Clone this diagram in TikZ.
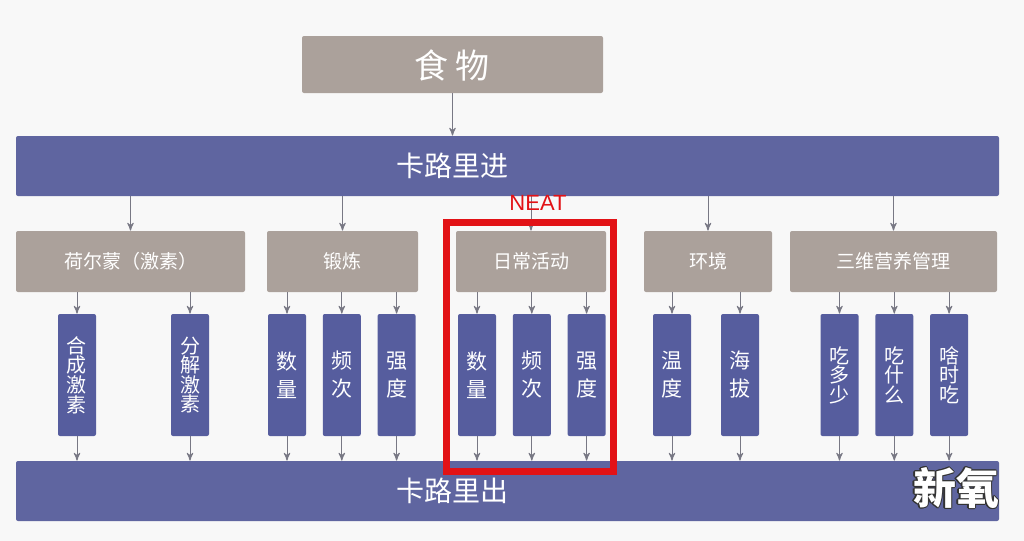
\documentclass[tikz,border=0pt]{standalone}
\usepackage{fontspec}
\setmainfont{Noto Sans CJK SC}
\newfontfamily\latinfont{Liberation Sans}
\usetikzlibrary{arrows,positioning}
\definecolor{barblue}{RGB}{95,101,160}
\definecolor{boxblue}{RGB}{86,93,158}
\definecolor{catgrey}{RGB}{171,161,155}
\definecolor{linegrey}{RGB}{120,120,132}
\definecolor{neatred}{RGB}{226,18,22}
\definecolor{paper}{RGB}{248,248,248}

\begin{document}
\begin{tikzpicture}[x=0.5pt,y=-0.5pt,>=stealth',node distance=8pt,
    every node/.style={inner sep=0pt,text=white},
    bar node/.style={rectangle,fill=barblue,rounded corners=1pt,minimum width=491.5pt,minimum height=30pt},
    cat node/.style={rectangle,fill=catgrey,rounded corners=1pt,minimum height=30.5pt,font=\fontsize{9.5}{11}\selectfont},
    small node/.style={rectangle,fill=boxblue,rounded corners=1pt,minimum width=19pt,minimum height=61pt,align=center,font=\fontsize{10.5}{14}\selectfont},
    tight/.style={font=\fontsize{10}{9.8}\selectfont},
    mark node/.style={font=\fontsize{21.5}{24}\selectfont\bfseries},
    line/.style={->,color=linegrey,line width=0.5pt}]

  \fill[paper] (0,0) rectangle (1024,541);

  \node[rectangle,fill=catgrey,rounded corners=1pt,minimum width=150.5pt,minimum height=28.5pt] (1) at (452.5,64.5) {};
  \node[font=\fontsize{17}{20}\selectfont] (1t) at (452,65) {食\hspace{3.5pt}物};
  \node[bar node] (2) at (507.5,166) {};
  \node[font=\fontsize{14}{16}\selectfont] (2t) at (452,166) {卡路里进};

  % middle row
  \node[cat node,minimum width=114.5pt] (3) at (130.5,261.5) {荷尔蒙（激素）};
  \node[cat node,minimum width=75.5pt] (4) at (342.5,261.5) {锻炼};
  \node[cat node,minimum width=75pt] (5) at (531,261.5) {日常活动};
  \node[cat node,minimum width=64pt] (6) at (708,261.5) {环境};
  \node[cat node,minimum width=103.5pt] (7) at (893.5,261.5) {三维营养管理};

  \node[small node,tight] (31) at (77,375) {合\\成\\激\\素};
  \node[small node,tight] (32) at (190,375) {分\\解\\激\\素};
  \node[small node] (41) at (287,375) {数\\量};
  \node[small node] (42) [right=of 41] {频\\次};
  \node[small node] (43) [right=of 42] {强\\度};
  \node[small node] (51) at (477,375) {数\\量};
  \node[small node] (52) [right=of 51] {频\\次};
  \node[small node] (53) [right=of 52] {强\\度};
  \node[small node] (61) at (672,375) {温\\度};
  \node[small node] (62) at (740,375) {海\\拔};
  \node[small node,tight] (71) at (839.5,375) {吃\\多\\少};
  \node[small node,tight] (72) [right=of 71] {吃\\什\\么};
  \node[small node,tight] (73) [right=of 72] {啥\\时\\吃};

  \node[bar node] (8) at (507.5,491) {};
  \node[font=\fontsize{14}{16}\selectfont] (8t) at (452,491) {卡路里出};

  \path[line]
    (1.south) edge (1.south |- 2.north)
    (2.south -| 3.north) edge (3.north)
    (2.south -| 4.north) edge (4.north)
    (2.south -| 5.north) edge (5.north)
    (2.south -| 6.north) edge (6.north)
    (2.south -| 7.north) edge (7.north)
    (3.south -| 31.north) edge (31.north)
    (3.south -| 32.north) edge (32.north)
    (4.south -| 41.north) edge (41.north)
    (4.south -| 42.north) edge (42.north)
    (4.south -| 43.north) edge (43.north)
    (5.south -| 51.north) edge (51.north)
    (5.south -| 52.north) edge (52.north)
    (5.south -| 53.north) edge (53.north)
    (6.south -| 61.north) edge (61.north)
    (6.south -| 62.north) edge (62.north)
    (7.south -| 71.north) edge (71.north)
    (7.south -| 72.north) edge (72.north)
    (7.south -| 73.north) edge (73.north);
  \path[line]
    (31.south) edge (31.south |- 8.north)
    (32.south) edge (32.south |- 8.north)
    (41.south) edge (41.south |- 8.north)
    (42.south) edge (42.south |- 8.north)
    (43.south) edge (43.south |- 8.north)
    (51.south) edge (51.south |- 8.north)
    (52.south) edge (52.south |- 8.north)
    (53.south) edge (53.south |- 8.north)
    (61.south) edge (61.south |- 8.north)
    (62.south) edge (62.south |- 8.north)
    (71.south) edge (71.south |- 8.north)
    (72.south) edge (72.south |- 8.north)
    (73.south) edge (73.south |- 8.north);

  % NEAT frame
  \draw[neatred,line width=3.5pt] (446,222) rectangle (613,471);
  \node[text=neatred,font=\latinfont\fontsize{11}{12}\selectfont] (n) at (538,203) {NEAT};

  \foreach \dx/\dy [count=\i] in {-0.6/0,0.6/0,0/-0.6,0/0.6,-0.45/-0.45,0.45/0.45,-0.45/0.45,0.45/-0.45}
    \node[mark node,text=black!80,xshift=\dx pt,yshift=\dy pt] (s\i) at (956,488) {新氧};
  \node[mark node] (9) at (956,488) {新氧};
\end{tikzpicture}
\end{document}
